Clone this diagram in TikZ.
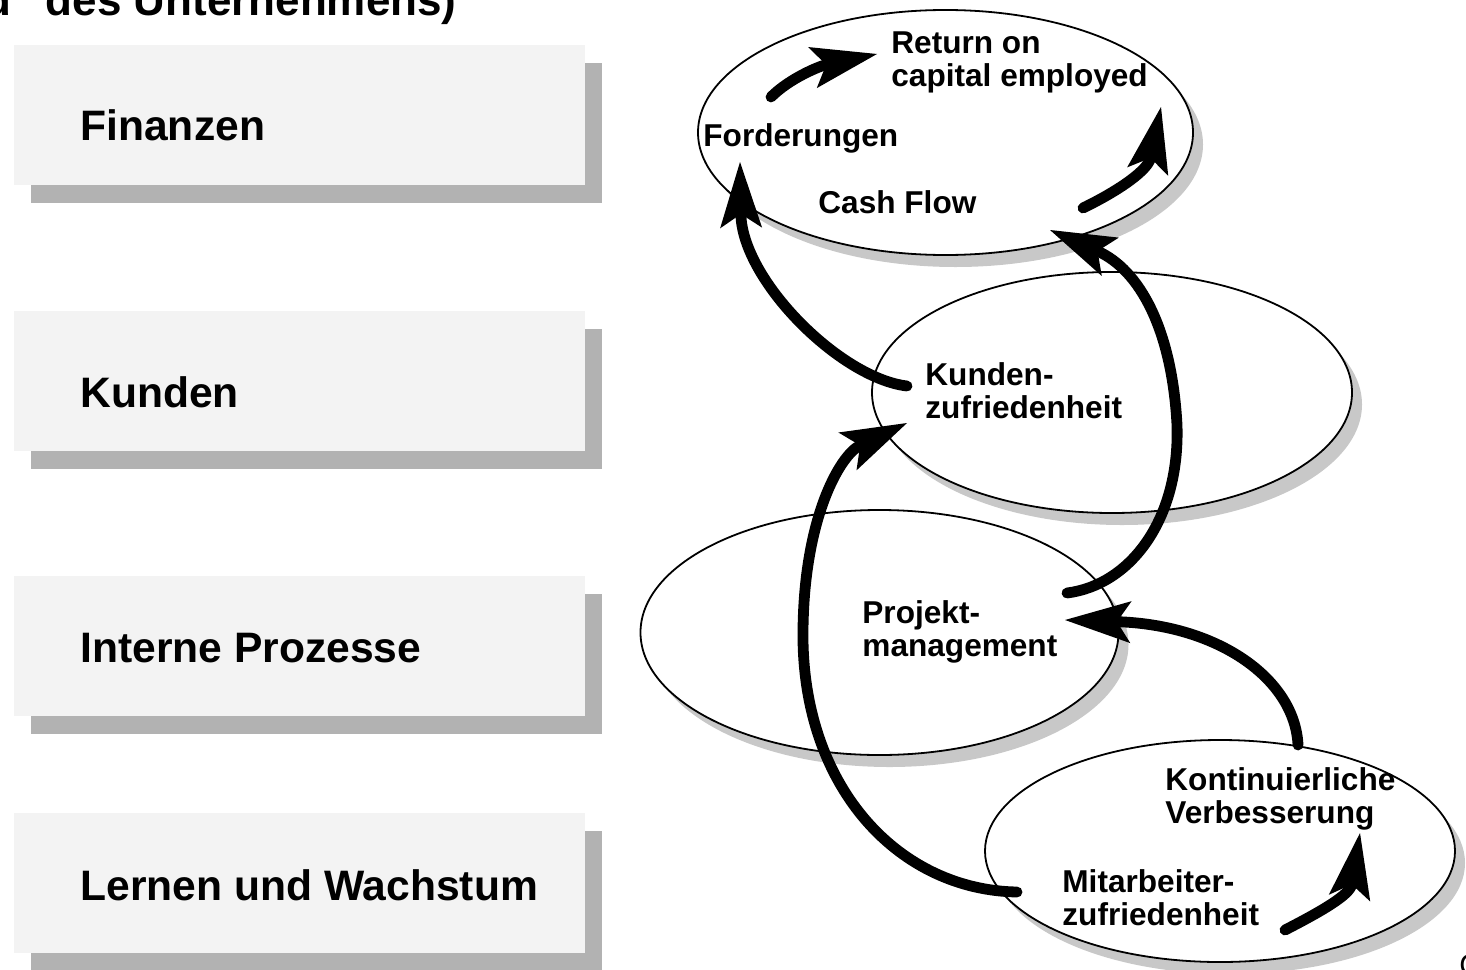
\documentclass[tikz,border=0pt]{standalone}
\usepackage{fontspec}
\setmainfont{Liberation Sans}
\usetikzlibrary{positioning, shapes.geometric, shadows, arrows.meta}
\definecolor{boxfill}{RGB}{243,243,243}
\definecolor{boxshade}{RGB}{178,178,178}
\definecolor{ellshade}{RGB}{200,200,200}

\begin{document}
\begin{tikzpicture}[x=0.5pt, y=-0.5pt,
    catbox/.style={fill=boxfill, minimum width=285.5pt, minimum height=70pt, inner sep=0pt,
      drop shadow={shadow xshift=8.5pt, shadow yshift=-9pt, fill=boxshade, opacity=1}},
    catlabel/.style={font=\fontsize{21.3}{25}\selectfont\bfseries, anchor=base west, inner sep=0pt},
    goalell/.style={ellipse, draw, line width=0.9pt, fill=white, inner sep=0pt,
      drop shadow={shadow xshift=5pt, shadow yshift=-6pt, fill=ellshade, opacity=1}},
    goallabel/.style={font=\fontsize{15.8}{16.5}\selectfont\bfseries, align=left, anchor=north west, inner sep=0pt},
    flow/.style={line width=5.4pt, line cap=round, -{Stealth[length=33pt, width=21pt, inset=7pt, line width=0pt]}}]
      \useasboundingbox (0,0) rectangle (1466,969);
      \clip (0,0) rectangle (1466,969);

      \node[font=\fontsize{22}{26}\selectfont\bfseries, anchor=base east, inner sep=0pt] (title) at (457,15) {d” des Unternehmens)};

      % perspectives
      \node[catbox] (finBox) at (299.5,115)   {};
      \node[catbox] (kunBox) at (299.5,380.5) {};
      \node[catbox] (proBox) at (299.5,646)   {};
      \node[catbox] (lerBox) at (299.5,882.5) {};

      \node[catlabel] (finLab) at (80,140) {Finanzen};
      \node[catlabel] (kunLab) at (80,407) {Kunden};
      \node[catlabel] (proLab) at (80,662) {Interne Prozesse};
      \node[catlabel] (lerLab) at (80,900) {Lernen und Wachstum};

      % goal ellipses
      \node[goalell, minimum width=247.5pt, minimum height=122.5pt] (finEll) at (945.5,132.5) {};
      \node[goalell, minimum width=240pt,   minimum height=120.5pt] (kunEll) at (1112,392.5) {};
      \node[goalell, minimum width=239pt,   minimum height=122.5pt] (proEll) at (879.5,632.5) {};
      \node[goalell, minimum width=235pt,   minimum height=111pt]   (lerEll) at (1220,851)    {};

      \node[goallabel] (retLab)  at (891,30)   {\strut Return on\\capital employed};
      \node[goallabel] (forLab)  at (703,123)  {\strut Forderungen};
      \node[goallabel] (cashLab) at (818,190)  {\strut Cash Flow};
      \node[goallabel] (kzLab)   at (925,362)  {\strut Kunden-\\zufriedenheit};
      \node[goallabel] (pmLab)   at (862,600)  {\strut Projekt-\\management};
      \node[goallabel] (kvLab)   at (1165,767) {\strut Kontinuierliche\\Verbesserung};
      \node[goallabel] (mzLab)   at (1062,869) {\strut Mitarbeiter-\\zufriedenheit};

      \node[font=\fontsize{15}{18}\selectfont, anchor=base west, inner sep=0pt] (corner) at (1459,975) {C};

      % cause and effect
      \coordinate (forTail)  at (771,97);   \coordinate (retTip)   at (877,54);
      \coordinate (cashTail) at (1083,208); \coordinate (retTipB)  at (1161,107);
      \coordinate (kzTail)   at (907,386);  \coordinate (forTip)   at (740,162);
      \coordinate (pmTail)   at (1067,593); \coordinate (cashTip)  at (1050,230);
      \coordinate (mzTail)   at (1017,892); \coordinate (kzTip)    at (907,423);
      \coordinate (kvTail)   at (1298,745); \coordinate (pmTip)    at (1065,620);
      \coordinate (mzTailB)  at (1285,930); \coordinate (kvTip)    at (1360,833);

      \draw[flow] (forTail)  .. controls (790,78) and (820,66) .. (retTip);
      \draw[flow] (cashTail) .. controls (1120,190) and (1148,170) .. (retTipB);
      \draw[flow] (kzTail)   .. controls (840,378) and (742,280) .. (forTip);
      \draw[flow] (pmTail)   .. controls (1130,585) and (1180,520) .. (1177,425) .. controls (1172,330) and (1140,270) .. (cashTip);
      \draw[flow] (mzTail)   .. controls (900,890) and (805,790) .. (803,640) .. controls (802,520) and (840,455) .. (kzTip);
      \draw[flow] (kvTail)   .. controls (1295,680) and (1220,625) .. (pmTip);
      \draw[flow] (mzTailB)  .. controls (1320,912) and (1350,895) .. (kvTip);
\end{tikzpicture}
\end{document}
